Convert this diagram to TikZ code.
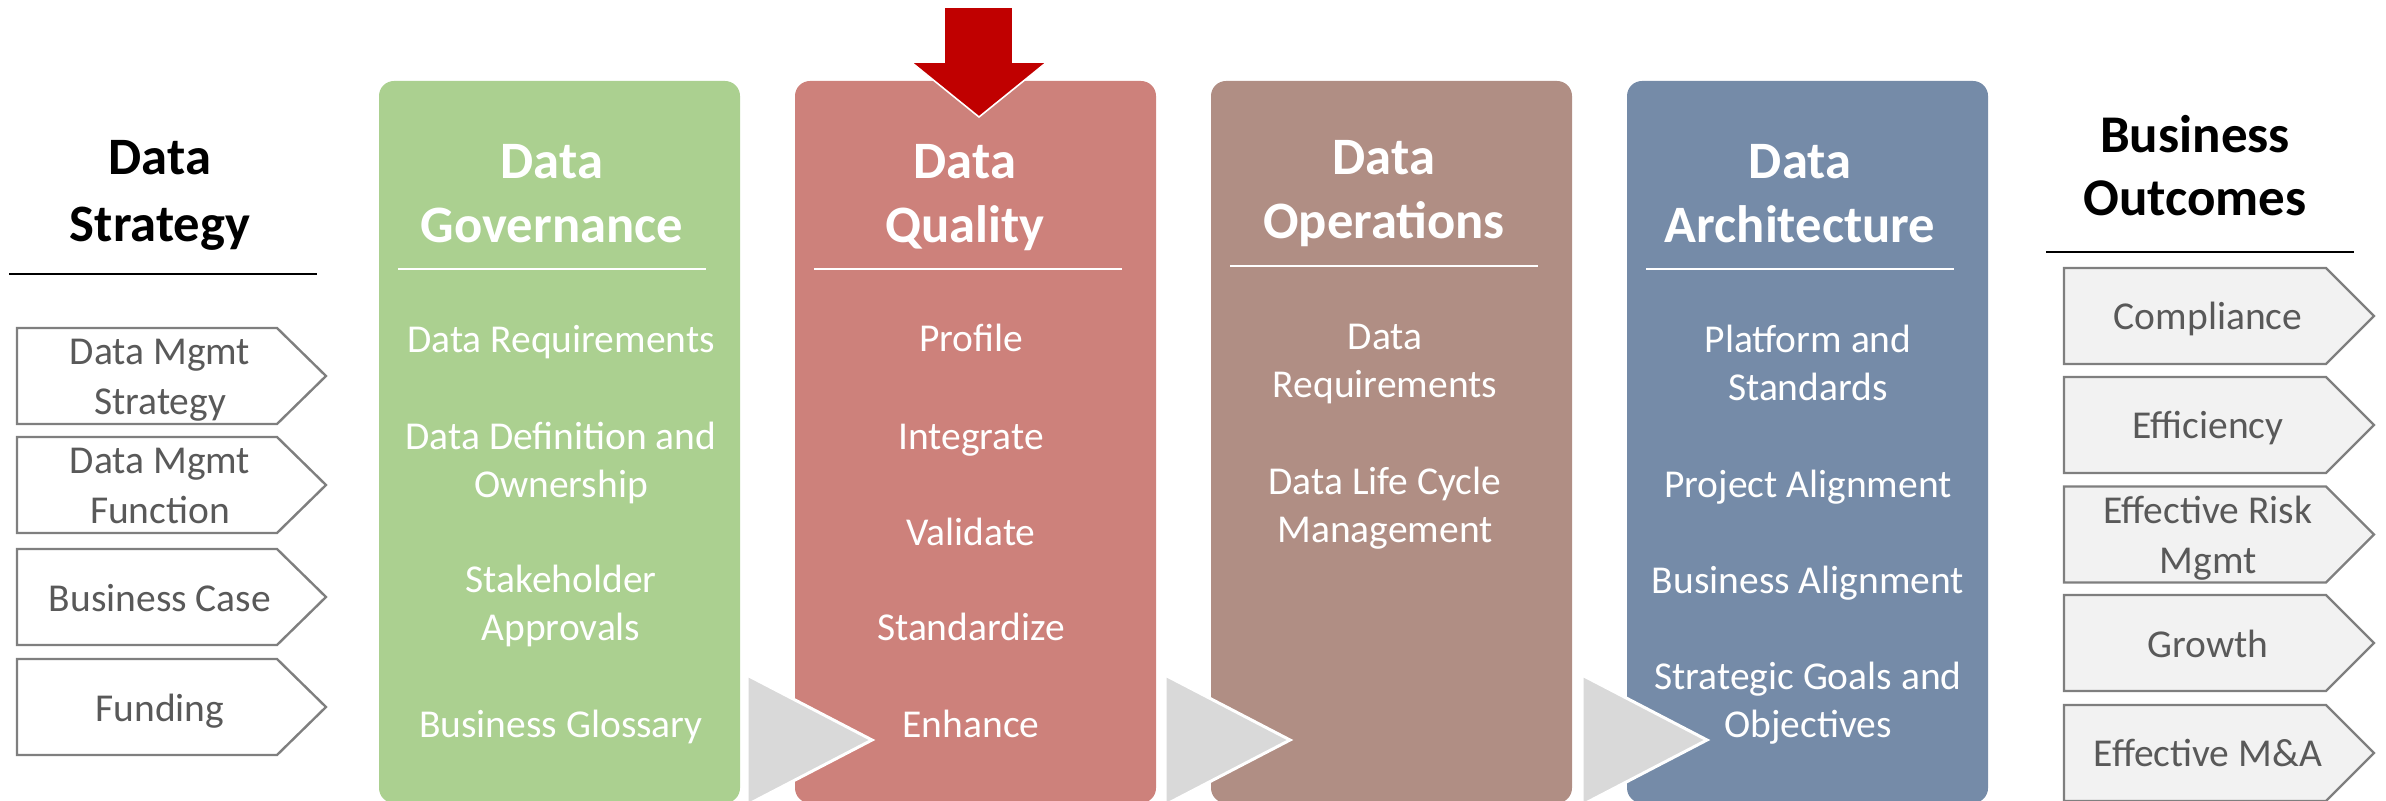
\documentclass[tikz,border=0pt]{standalone}
\usepackage{fontspec}
\setmainfont{Carlito}
\definecolor{cgreen}{HTML}{ABD090}
\definecolor{cred}{HTML}{CD817B}
\definecolor{cbrown}{HTML}{B08E84}
\definecolor{cblue}{HTML}{758BA8}
\definecolor{tri}{HTML}{D9D9D9}
\definecolor{bord}{HTML}{7F7F7F}
\definecolor{lfill}{HTML}{F2F2F2}
\definecolor{tgray}{HTML}{595959}
\definecolor{arr}{HTML}{C00000}
\begin{document}
\begin{tikzpicture}[x=0.5pt,y=-0.5pt,
  colbox/.style={rounded corners=7.5pt},
  sepline/.style={draw=white,line width=1pt},
  blackline/.style={draw=black,line width=1pt},
  item/.style={text=white,font=\fontsize{19.75}{24}\selectfont,align=center,inner sep=0pt},
  ctitle/.style={text=white,font=\fontsize{26.3}{32}\selectfont\bfseries,align=center,inner sep=0pt},
  stitle/.style={text=black,font=\fontsize{26.3}{33.5}\selectfont\bfseries,align=center,inner sep=0pt},
  otitle/.style={text=black,font=\fontsize{26.5}{31.5}\selectfont\bfseries,align=center,inner sep=0pt},
  pent/.style={draw=bord,line width=1.2pt},
  btext/.style={text=tgray,font=\fontsize{19.75}{25}\selectfont,align=center,inner sep=0pt},
  chev/.style={fill=tri,draw=white,line width=1.5pt}
]
\useasboundingbox (0,0) rectangle (2386,801);
\clip (0,0) rectangle (2386,801);

% columns
\fill[cgreen,colbox] (379,81) rectangle (740,803);
\fill[cred,colbox] (795,81) rectangle (1156,803);
\fill[cbrown,colbox] (1211,81) rectangle (1572,803);
\fill[cblue,colbox] (1627,81) rectangle (1988,803);

% separators
\draw[sepline] (398,269) -- (706,269);
\draw[sepline] (814,269) -- (1122,269);
\draw[sepline] (1230,266) -- (1538,266);
\draw[sepline] (1646,269) -- (1954,269);

% column titles
\node[ctitle] (tgov) at (552,197.5) {\strut Data\\\strut Governance};
\node[ctitle] (tqual) at (965,197.5) {\strut Data\\\strut Quality};
\node[ctitle] (tops) at (1384,193.5) {\strut Data\\\strut Operations};
\node[ctitle] (tarch) at (1800,197.5) {\strut Data\\\strut Architecture};

% governance items
\node[item] (g1) at (561,343.4) {\strut Data Requirements};
\node[item] (g2) at (561,464) {\strut Data Definition and\\\strut Ownership};
\node[item] (g3) at (561,607) {\strut Stakeholder\\\strut Approvals};
\node[item] (g4) at (561,727.4) {\strut Business Glossary};

% quality items
\node[item] (q1) at (971,342.4) {\strut Profile};
\node[item] (q2) at (971,440.4) {\strut Integrate};
\node[item] (q3) at (971,536.4) {\strut Validate};
\node[item] (q4) at (971,630.4) {\strut Standardize};
\node[item] (q5) at (971,727.4) {\strut Enhance};

% operations items
\node[item] (o1) at (1385,364) {\strut Data\\\strut Requirements};
\node[item] (o2) at (1385,509) {\strut Data Life Cycle\\\strut Management};

% architecture items
\node[item] (a1) at (1808,367) {\strut Platform and\\\strut Standards};
\node[item] (a2) at (1808,487.4) {\strut Project Alignment};
\node[item] (a3) at (1808,583.4) {\strut Business Alignment};
\node[item] (a4) at (1808,703.5) {\strut Strategic Goals and\\\strut Objectives};

% grey chevrons between columns
\draw[chev] (747,675) -- (872,740) -- (747,805) -- cycle;
\draw[chev] (1165,675) -- (1290,740) -- (1165,805) -- cycle;
\draw[chev] (1582,675) -- (1707,740) -- (1582,805) -- cycle;

% red arrow
\draw[fill=arr,draw=white,line width=0.8pt] (944,7) -- (1013,7) -- (1013,62) -- (1047,62) -- (979,117) -- (911,62) -- (944,62) -- cycle;

% left side
\node[stitle] (strat) at (160,195) {\strut Data\\\strut Strategy};
\draw[blackline] (9,274) -- (317,274);
\foreach \t in {328,437,549,659}{
  \draw[pent,fill=white] (17,\t) -- (277,\t) -- (326,\t+48) -- (277,\t+96) -- (17,\t+96) -- cycle;
}
\node[btext] (l1) at (160,380) {\strut Data Mgmt\\\strut Strategy};
\node[btext] (l2) at (160,489) {\strut Data Mgmt\\\strut Function};
\node[btext] (l3) at (160,601) {\strut Business Case};
\node[btext] (l4) at (160,711) {\strut Funding};

% right side
\node[otitle] (outc) at (2195,171) {\strut Business\\\strut Outcomes};
\draw[blackline] (2046,252) -- (2354,252);
\foreach \t in {268,377,486.5,595,705}{
  \draw[pent,fill=lfill] (2064,\t) -- (2326,\t) -- (2374,\t+48) -- (2326,\t+96) -- (2064,\t+96) -- cycle;
}
\node[btext] (r1) at (2208,320) {\strut Compliance};
\node[btext] (r2) at (2208,429) {\strut Efficiency};
\node[btext] (r3) at (2208,538.5) {\strut Effective Risk\\\strut Mgmt};
\node[btext] (r4) at (2208,647) {\strut Growth};
\node[btext] (r5) at (2208,756) {\strut Effective M\&A};
\end{tikzpicture}
\end{document}
